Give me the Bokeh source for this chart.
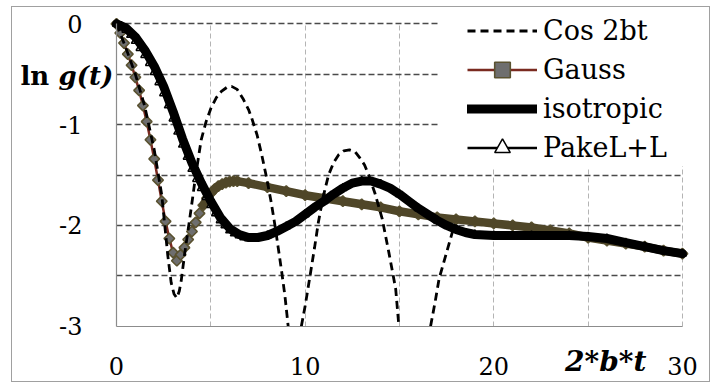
from bokeh.plotting import figure
from bokeh.models import (Range1d, FixedTicker, Legend, LegendItem, BoxAnnotation, Label, Grid)
from bokeh.embed import file_html
from bokeh.resources import INLINE
import numpy as np

nan = float("nan")

# ---------------- data ----------------
# nan marks where the curve runs off the bottom of the chart (below -3)
cos_x = [0, 0.5, 1.0, 1.5, 2.0, 2.4, 2.72, 2.9, 3.05, 3.2, 3.33, 3.43, 3.6, 3.96, 4.2, 4.49,
         4.75, 5.02, 5.3, 5.56, 5.85, 6.1, 6.4, 6.7, 7.0, 7.16, 7.45, 7.7, 7.95, 8.2, 8.4,
         8.58, 8.75, 8.93, 9.1, 9.45, 9.8, 10.0, 10.26, 10.5, 10.7, 10.95, 11.24, 11.5,
         11.77, 12.05, 12.35, 12.65, 12.9, 13.15, 13.37, 13.7, 14.08, 14.44, 14.8, 14.97,
         15.8, 16.65, 16.9, 17.1, 17.45, 17.8, 18.1]
cos_y = [0.0, -0.24, -0.5, -0.82, -1.25, -1.7, -2.3, -2.57, -2.68, -2.72, -2.65, -2.55, -2.3,
         -1.83, -1.5, -1.15, -0.97, -0.83, -0.73, -0.67, -0.63, -0.62, -0.65, -0.74, -0.85,
         -0.93, -1.1, -1.3, -1.52, -1.77, -2.0, -2.23, -2.45, -2.7, -3.0, nan, -3.0, -2.8,
         -2.5, -2.22, -1.97, -1.72, -1.5, -1.38, -1.3, -1.26, -1.25, -1.27, -1.33, -1.4, -1.5,
         -1.68, -1.93, -2.27, -2.63, -3.0, nan, -3.0, -2.75, -2.53, -2.3, -2.07, -2.0]

gauss_x = [0, 0.2, 0.4, 0.6, 0.8, 1.0, 1.2, 1.4, 1.6, 1.8, 2.0, 2.2, 2.4, 2.6, 2.8, 3.0, 3.2,
           3.4, 3.6, 3.8, 4.0, 4.2, 4.4, 4.6, 4.8, 5.0, 5.2, 5.4, 5.6, 5.8, 6.0, 6.2, 6.4,
           7, 8, 9, 10, 11, 12, 13, 14, 15, 16, 17, 18, 19, 20, 21, 22, 23, 24, 25, 26, 27,
           28, 29, 30]
gauss_y = [0.0, -0.09, -0.19, -0.30, -0.41, -0.53, -0.66, -0.81, -0.97, -1.15, -1.34, -1.55,
           -1.76, -1.96, -2.13, -2.27, -2.35, -2.29, -2.22, -2.14, -2.06, -1.97, -1.88, -1.80,
           -1.73, -1.68, -1.64, -1.61, -1.59, -1.575, -1.565, -1.56, -1.56,
           -1.58, -1.62, -1.66, -1.70, -1.73, -1.76, -1.79, -1.82, -1.86, -1.89, -1.92, -1.94,
           -1.96, -1.98, -2.0, -2.02, -2.05, -2.08, -2.12, -2.15, -2.18, -2.21, -2.25, -2.28]

iso_x = [0, 0.5, 1.0, 1.5, 2.0, 2.5, 3.0, 3.5, 4.0, 4.5, 5.0, 5.5, 6.0, 6.5, 7.0, 7.5, 8.0,
         8.5, 9.0, 9.5, 10, 10.5, 11, 11.5, 12, 12.5, 13, 13.5, 14, 14.5, 15, 15.5, 16, 16.5,
         17, 17.5, 18, 18.5, 19, 20, 21, 22, 23, 24, 25, 26, 27, 28, 29, 30]
iso_y = [0.0, -0.04, -0.13, -0.26, -0.42, -0.62, -0.87, -1.14, -1.38, -1.58, -1.76, -1.92,
         -2.03, -2.09, -2.12, -2.12, -2.10, -2.06, -2.01, -1.96, -1.89, -1.82, -1.76, -1.69,
         -1.63, -1.58, -1.56, -1.56, -1.59, -1.63, -1.69, -1.76, -1.83, -1.89, -1.95, -2.0,
         -2.04, -2.07, -2.09, -2.1, -2.1, -2.1, -2.1, -2.1, -2.11, -2.13, -2.17, -2.21, -2.25,
         -2.28]

pake_x = [0, 0.25, 0.5, 0.75, 1.0, 1.25, 1.5, 1.75, 2.0, 2.25, 2.5, 2.75, 3.0, 3.25, 3.5,
          3.75, 4.0, 4.25, 4.5, 4.75, 5.0, 5.25, 5.5, 5.75, 6.0, 6.25, 6.5, 6.75, 7.0,
          8, 9, 10, 11, 12, 13, 14, 15, 16, 17, 18, 19, 20, 22, 24, 26, 28, 30]
pake_y = [0.0, -0.02, -0.06, -0.11, -0.17, -0.24, -0.31, -0.39, -0.48, -0.58, -0.69, -0.81,
          -0.94, -1.07, -1.2, -1.32, -1.44, -1.54, -1.63, -1.72, -1.8, -1.88, -1.95, -2.0,
          -2.05, -2.08, -2.1, -2.12, -2.13, -2.1, -2.01, -1.89, -1.76, -1.63, -1.56, -1.59,
          -1.69, -1.83, -1.95, -2.04, -2.09, -2.1, -2.1, -2.1, -2.13, -2.21, -2.28]

x_ticks = [0, 10, 20, 30]
y_ticks = [0, -1, -2, -3]
y_tick_labels = {0: "0", -1: "-1", -2: "-2", -3: "-3"}
x_grid = [5, 10, 15, 20, 25, 30]
y_grid = [0, -0.5, -1, -1.5, -2, -2.5]
x_span = (0, 30)
y_span = (-3, 0)

SERIF = "DejaVu Serif"

# whole canvas is the frame; data area 0..30 x -3..0 sits inside it
p = figure(width=699, height=376, output_backend="svg", toolbar_location=None,
           x_range=Range1d(-5.513, 31.542), y_range=Range1d(-3.5687, 0.1626),
           min_border=0)
p.styles = {"border": "1px solid #a0a0a0", "margin-left": "11px", "margin-top": "6px"}
p.outline_line_color = None
p.background_fill_color = "white"
p.border_fill_color = "white"

xa, ya = p.xaxis[0], p.yaxis[0]
xa.fixed_location = y_span[0]
ya.fixed_location = x_span[0]
xa.bounds = x_span
ya.bounds = y_span
for ax in (xa, ya):
    ax.axis_line_color = "#8c8c8c"
    ax.axis_line_width = 1.2
    ax.major_tick_line_color = None
    ax.minor_tick_line_color = None
    ax.major_label_text_color = "black"
    ax.major_label_text_font = SERIF
    ax.major_label_text_font_size = "24px"
xa.ticker = FixedTicker(ticks=x_ticks)
ya.ticker = FixedTicker(ticks=y_ticks)
ya.major_label_overrides = y_tick_labels
xa.major_label_standoff = 25
ya.major_label_standoff = 28

for g in (p.xgrid[0], p.ygrid[0]):
    g.visible = False
vg = Grid(dimension=0, ticker=FixedTicker(ticks=x_grid), cross_bounds=y_span,
          grid_line_color="#b4b4b4", grid_line_dash="5 3", grid_line_width=1)
hg = Grid(dimension=1, ticker=FixedTicker(ticks=y_grid), cross_bounds=x_span,
          grid_line_color="#4a4a4a", grid_line_dash="6 3", grid_line_width=1.3)
p.add_layout(vg)
p.add_layout(hg)

# white area behind the legend (covers grid lines, under the curves)
p.add_layout(BoxAnnotation(left=17.1, right=31, top=1, bottom=-1.41,
                           fill_color="white", fill_alpha=1, line_color=None, level="underlay"))

gx = np.array(gauss_x)
gy = np.array(gauss_y)
tail = gx >= 4.6

g_line = p.line(gauss_x, gauss_y, line_color="#7a2a20", line_width=2.5)
g_mark = p.scatter(gauss_x, gauss_y, marker="square", angle=np.pi / 4, size=7.5,
                   fill_color="#6e6e6e", line_color="#5a5230", line_width=1.6)
p.line(gx[tail], gy[tail], line_color="#4f4628", line_width=8.5, line_cap="round",
       line_join="round")

c_line = p.line(cos_x, cos_y, line_color="black", line_width=2.8, line_dash="8 5")

pk_line = p.line(pake_x, pake_y, line_color="black", line_width=2.5)
pk_mark = p.scatter(pake_x, pake_y, marker="triangle", size=8, fill_color="white",
                    line_color="black", line_width=1.5)

i_line = p.line(iso_x, iso_y, line_color="black", line_width=9, line_cap="round",
                line_join="round")

legend = Legend(items=[
    LegendItem(label="Cos 2bt", renderers=[c_line]),
    LegendItem(label="Gauss", renderers=[g_line, g_mark]),
    LegendItem(label="isotropic", renderers=[i_line]),
    LegendItem(label="PakeL+L", renderers=[pk_line, pk_mark]),
], location=(455, 216), background_fill_color="white", background_fill_alpha=1,
    border_line_color=None, padding=0, margin=0, spacing=0, glyph_width=70,
    glyph_height=39, label_height=39, label_standoff=6,
    label_text_font=SERIF, label_text_font_size="27px", label_text_color="black")
p.add_layout(legend)

p.add_layout(Label(x=-5.09, y=-0.52, text="ln", text_font=SERIF, text_font_style="bold",
                   text_font_size="26px", text_baseline="alphabetic", text_color="black"))
p.add_layout(Label(x=-3.07, y=-0.52, text="g(t)", text_font=SERIF,
                   text_font_style="bold italic", text_font_size="26px",
                   text_baseline="alphabetic", text_color="black"))
p.add_layout(Label(x=23.78, y=-3.355, text="2*b*t", text_font=SERIF,
                   text_font_style="bold italic", text_font_size="28px",
                   text_baseline="alphabetic", text_color="black"))

open("out.html", "w").write(file_html(p, INLINE))
